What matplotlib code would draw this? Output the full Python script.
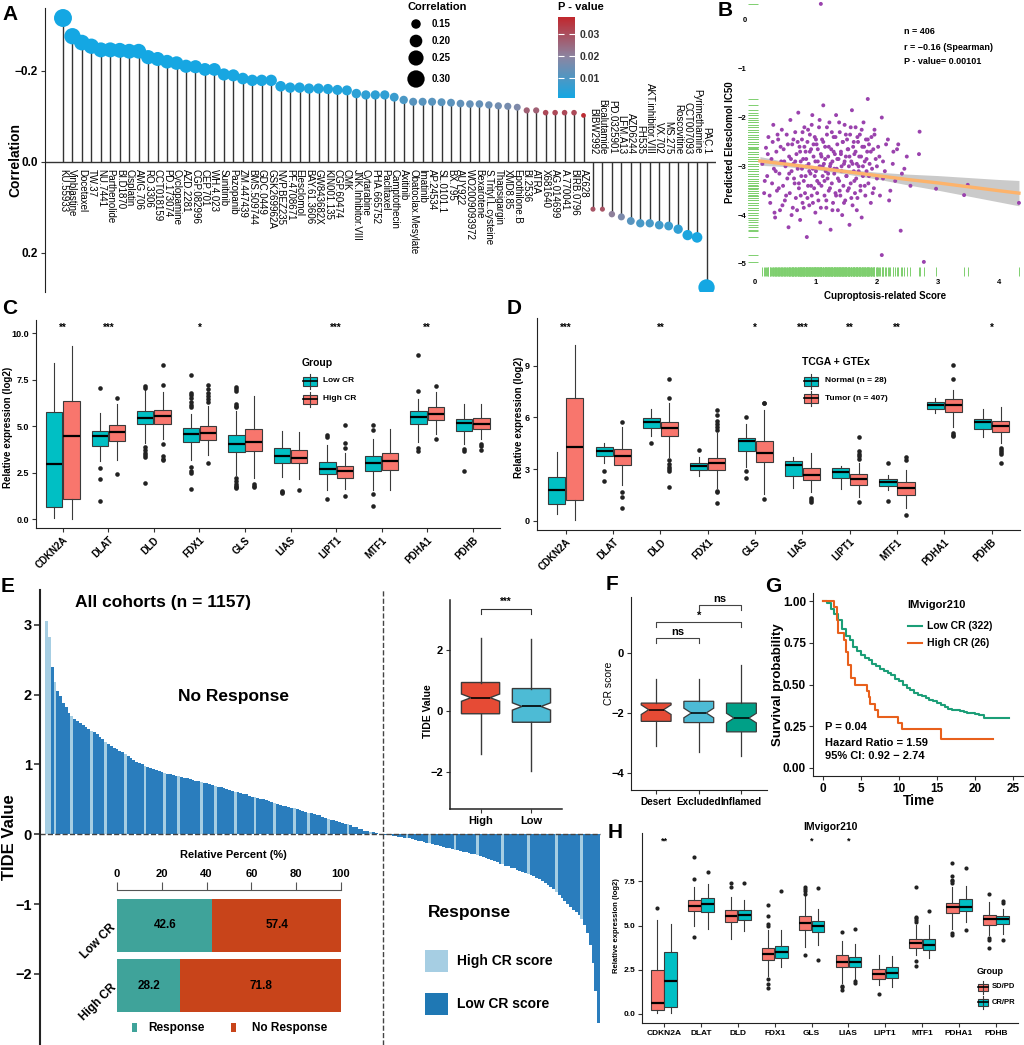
import numpy as np
import matplotlib.pyplot as plt
from matplotlib.colors import LinearSegmentedColormap, Normalize
from matplotlib.cm import ScalarMappable
from matplotlib.patches import Rectangle
from matplotlib.transforms import blended_transform_factory

plt.rcParams['font.family'] = ['Liberation Sans', 'DejaVu Sans']
plt.rcParams['font.weight'] = 'bold'

# ---------------- data ----------------
# A: drug correlation lollipop
drugs = ["KU.55933", "Vinblastine", "Docetaxel", "TW.37", "NU.7441", "Parthenolide", "BI.D1870",
         "Cisplatin", "AMG.706", "RO.3306", "CCT018159", "PD.173074", "Cyclopamine", "AZD.2281",
         "CGP.082996", "CEP.701", "WH.4.023", "Sunitinib", "Pazopanib", "ZM.447439", "BMS.509744",
         "GDC.0449", "GSK269962A", "NVP.BEZ235", "PF.4708671", "Elesclomol", "BAY.61.3606",
         "GW843682X", "KIN001.135", "CGP.60474", "CMK", "JNK.Inhibitor.VIII", "Cytarabine",
         "PHA.665752", "Paclitaxel", "Camptothecin", "Axitinib", "Obatoclax.Mesylate", "Imatinib",
         "AP.24534", "SL.0101.1", "BX.795", "AUY922", "WO2009093972", "Bexarotene",
         "S.Trityl.L.cysteine", "Thapsigargin", "XMD8.85", "Epothilone.B", "BI.2536", "ATRA",
         "X681640", "AG.014699", "A.770041", "BIRB.0796", "AZ628",
         "BIBW2992", "Bicalutamide", "PD.0325901", "LFM.A13", "AZD6244", "FH535",
         "AKT.inhibitor.VIII", "VX.702", "MS.275", "Roscovitine", "CCT007093", "Pyrimethamine", "PAC.1"]
corr = [-0.316, -0.276, -0.262, -0.254, -0.246, -0.246, -0.245, -0.243, -0.243, -0.230,
        -0.226, -0.220, -0.217, -0.210, -0.209, -0.203, -0.203, -0.192, -0.190, -0.183,
        -0.179, -0.179, -0.179, -0.166, -0.163, -0.163, -0.161, -0.161, -0.160, -0.158,
        -0.157, -0.150, -0.147, -0.147, -0.147, -0.142, -0.136, -0.132, -0.132, -0.132,
        -0.131, -0.130, -0.128, -0.127, -0.127, -0.125, -0.123, -0.122, -0.120, -0.113,
        -0.113, -0.108, -0.108, -0.108, -0.108, -0.102,
        0.104, 0.104, 0.115, 0.121, 0.130, 0.135, 0.135, 0.139, 0.141, 0.148, 0.161, 0.166, 0.276]
pvals = [0.0009, 0.0009, 0.0009, 0.0009, 0.0009, 0.0009, 0.0009, 0.0009, 0.0009, 0.0010,
         0.0010, 0.0011, 0.0011, 0.0012, 0.0012, 0.0013, 0.0013, 0.0015, 0.0015, 0.0017,
         0.0018, 0.0018, 0.0018, 0.0024, 0.0026, 0.0026, 0.0028, 0.0028, 0.0029, 0.0031,
         0.0033, 0.0045, 0.0052, 0.0052, 0.0052, 0.0068, 0.0095, 0.0115, 0.0115, 0.0115,
         0.0118, 0.0122, 0.0130, 0.0135, 0.0135, 0.0145, 0.0155, 0.0162, 0.0175, 0.0265,
         0.0265, 0.0310, 0.0310, 0.0310, 0.0310, 0.0365,
         0.0290, 0.0290, 0.0205, 0.0170, 0.0115, 0.0090, 0.0090, 0.0080, 0.0072, 0.0052,
         0.0022, 0.0016, 0.0009]
size_legend = [0.15, 0.20, 0.25, 0.30]

# B: score vs predicted IC50
b_x = [0.12, 0.15, 0.18, 0.2, 0.22, 0.25, 0.27, 0.28, 0.3, 0.31, 0.33, 0.35, 0.36, 0.38, 0.4, 0.41,
       0.43, 0.44, 0.46, 0.47, 0.49, 0.5, 0.52, 0.53, 0.55, 0.56, 0.57, 0.58, 0.6, 0.61, 0.62, 0.63,
       0.65, 0.66, 0.67, 0.68, 0.7, 0.71, 0.72, 0.73, 0.74, 0.75, 0.76, 0.77, 0.78, 0.79, 0.8, 0.81,
       0.82, 0.83, 0.84, 0.85, 0.86, 0.87, 0.88, 0.89, 0.9, 0.91, 0.92, 0.93, 0.94, 0.95, 0.96, 0.97,
       0.98, 0.99, 1.0, 1.01, 1.02, 1.03, 1.04, 1.05, 1.06, 1.07, 1.08, 1.08, 1.09, 1.1, 1.11, 1.12,
       1.13, 1.14, 1.15, 1.16, 1.17, 1.18, 1.19, 1.2, 1.21, 1.22, 1.23, 1.24, 1.25, 1.26, 1.27, 1.28,
       1.29, 1.3, 1.31, 1.32, 1.33, 1.34, 1.35, 1.36, 1.37, 1.38, 1.39, 1.4, 1.41, 1.42, 1.43, 1.44,
       1.45, 1.46, 1.47, 1.48, 1.49, 1.5, 1.51, 1.52, 1.53, 1.54, 1.55, 1.56, 1.57, 1.58, 1.59, 1.6,
       1.61, 1.62, 1.63, 1.64, 1.65, 1.66, 1.67, 1.68, 1.69, 1.7, 1.72, 1.73, 1.74, 1.75, 1.76, 1.77,
       1.78, 1.8, 1.81, 1.82, 1.83, 1.84, 1.85, 1.86, 1.87, 1.88, 1.9, 1.91, 1.92, 1.94, 1.95, 1.96,
       1.98, 2.0, 2.02, 2.05, 2.08, 2.08, 2.1, 2.13, 2.18, 2.22, 2.27, 2.3, 2.35, 2.39, 2.45, 2.49,
       2.55, 2.69, 2.7, 2.77, 2.97, 3.43, 3.49, 4.33]
b_y = [-2.95, -3.55, -2.62, -3.2, -2.4, -3.75, -2.85, -3.35, -2.15, -3.05, -4.05, -2.7, -3.5, -2.45,
       -3.15, -3.9, -2.9, -2.25, -3.4, -2.65, -3.7, -3.0, -2.35, -3.25, -4.25, -2.8, -3.55, -2.05,
       -3.1, -2.55, -3.85, -2.95, -3.35, -2.3, -3.65, -2.75, -3.05, -1.9, -3.45, -2.6, -4.1, -2.9,
       -3.2, -2.45, -3.75, -2.85, -3.3, -2.2, -3.55, -2.7, -3.0, -4.45, -2.5, -3.4, -2.95, -3.8,
       -2.35, -3.15, -2.65, -3.6, -1.95, -3.05, -2.8, -3.45, -2.4, -3.95, -3.1, -2.55, -3.3, -2.9,
       -3.7, -2.2, -3.0, -4.15, -2.75, 0.33, -3.4, -2.45, -3.2, -1.75, -2.95, -3.6, -2.6, -3.1,
       -3.85, -2.35, -3.25, -2.8, -3.5, -2.1, -3.0, -4.3, -2.65, -3.35, -2.9, -3.75, -2.4, -3.15,
       -2.75, -3.55, -1.95, -3.05, -2.55, -3.9, -2.85, -3.3, -2.3, -3.6, -2.7, -3.1, -4.0, -2.5,
       -3.4, -2.95, -2.15, -3.7, -2.8, -3.2, -2.45, -3.5, -2.65, -3.0, -4.2, -2.35, -3.35, -2.9,
       -1.85, -3.8, -2.6, -3.1, -2.75, -3.55, -2.2, -3.25, -2.95, -3.65, -2.5, -3.0, -2.35, -3.4,
       -2.8, -4.05, -2.6, -3.2, -2.1, -2.9, -3.6, -2.45, -3.1, -2.7, -1.62, -3.35, -2.55, -2.95,
       -3.75, -2.4, -3.05, -2.65, -3.45, -2.25, -2.85, -3.25, -2.6, -3.6, -2.0, -4.82, -2.9, -3.1,
       -2.45, -3.5, -2.7, -3.3, -2.55, -4.32, -3.05, -2.8, -3.4, -2.75, -2.29, -4.96, -3.46, -3.59,
       -3.38, -3.75]
b_x2 = [0.16, 0.21, 0.24, 0.29, 0.32, 0.34, 0.37, 0.39, 0.42, 0.45,
        0.48, 0.51, 0.54, 0.56, 0.59, 0.6, 0.63, 0.64, 0.66, 0.69,
        0.7, 0.72, 0.74, 0.75, 0.77, 0.78, 0.8, 0.81, 0.83, 0.84,
        0.86, 0.87, 0.89, 0.9, 0.92, 0.93, 0.95, 0.96, 0.98, 0.99,
        1.0, 1.02, 1.03, 1.05, 1.06, 1.08, 1.09, 1.11, 1.12, 1.14,
        1.15, 1.17, 1.18, 1.2, 1.21, 1.23, 1.24, 1.26, 1.27, 1.29,
        1.3, 1.32, 1.33, 1.35, 1.36, 1.38, 1.39, 1.41, 1.42, 1.44,
        1.46, 1.47, 1.49, 1.5, 1.52, 1.54, 1.55, 1.57, 1.58, 1.6,
        1.62, 1.63, 1.65, 1.67, 1.68, 1.7, 1.71, 1.73, 1.75, 1.77,
        1.79, 1.8, 1.83, 1.85, 1.87, 1.9, 1.93, 1.96, 2.0, 2.04,
        2.1, 2.15, 2.2, 2.26, 2.33, 2.41]
b_y2 = [-3.3, -2.75, -3.6, -2.5, -3.95, -3.1, -2.35, -3.45, -2.6, -3.8,
        -2.9, -3.6, -2.55, -3.15, -2.85, -4.0, -2.45, -3.25, -2.9, -3.9,
        -2.5, -3.35, -2.7, -3.6, -3.05, -2.3, -3.85, -2.6, -3.2, -2.85,
        -3.65, -2.25, -3.1, -2.7, -3.4, -2.15, -3.75, -2.55, -3.2, -2.9,
        -2.45, -3.55, -2.65, -3.35, -2.05, -3.85, -2.8, -3.0, -2.5, -3.3,
        -2.85, -3.7, -2.2, -3.15, -2.6, -3.45, -2.95, -2.3, -3.9, -2.7,
        -3.05, -2.4, -3.6, -2.85, -3.25, -2.1, -3.5, -2.75, -3.0, -2.5,
        -3.75, -2.9, -2.35, -3.2, -2.65, -3.45, -2.8, -2.2, -3.65, -2.95,
        -2.5, -3.3, -2.7, -3.9, -2.4, -3.1, -2.8, -3.5, -2.25, -3.0,
        -2.6, -3.4, -2.85, -2.45, -3.2, -2.7, -3.55, -2.35, -3.0, -2.8,
        -3.25, -2.55, -3.7, -2.95, -2.65, -3.15]
b_fit_x = [0.08, 0.5, 1.0, 1.5, 2.0, 2.5, 3.0, 3.5, 4.0, 4.33]
b_fit_y = [-2.89, -2.955, -3.03, -3.11, -3.19, -3.27, -3.34, -3.42, -3.50, -3.55]
b_fit_ci = [0.09, 0.05, 0.04, 0.05, 0.07, 0.11, 0.15, 0.19, 0.23, 0.26]

# C / D / H: gene expression boxplots  [whislo, q1, med, q3, whishi]
genes = ["CDKN2A", "DLAT", "DLD", "FDX1", "GLS", "LIAS", "LIPT1", "MTF1", "PDHA1", "PDHB"]
c_low = [[0.05, 0.65, 2.94, 5.75, 8.39], [3.14, 3.94, 4.46, 4.73, 5.70], [4.10, 5.09, 5.45, 5.82, 6.92],
         [3.15, 4.14, 4.55, 4.89, 5.66], [2.35, 3.60, 4.03, 4.50, 5.80], [2.25, 3.00, 3.37, 3.80, 4.75],
         [1.54, 2.44, 2.71, 3.06, 3.96], [1.58, 2.56, 3.01, 3.39, 4.30], [4.14, 5.13, 5.48, 5.81, 6.47],
         [4.05, 4.73, 5.16, 5.39, 6.20]]
c_low_out = [[], [7.04, 2.74, 2.17, 0.97], [7.05, 7.15, 3.85, 3.7, 3.55, 3.45, 3.35, 1.94],
             [6.0, 6.15, 6.3, 6.5, 6.65, 6.8, 7.74, 2.8, 2.6, 2.5, 1.6],
             [6.0, 6.1, 6.2, 6.9, 7.0, 7.1, 2.2, 2.05, 1.9, 1.8, 1.7, 1.65], [1.5, 1.45, 1.38],
             [4.4, 4.5, 1.1], [4.77, 5.07, 1.33, 0.68], [6.88, 8.8, 3.8, 3.65], [3.75, 3.65, 2.6]]
c_high = [[0.0, 1.06, 4.46, 6.34, 9.28], [3.15, 4.19, 4.68, 5.05, 6.20], [4.32, 5.13, 5.52, 5.88, 6.83],
          [3.42, 4.23, 4.62, 5.00, 6.06], [2.20, 3.64, 4.16, 4.86, 6.61], [2.15, 3.02, 3.30, 3.72, 4.70],
          [1.60, 2.22, 2.56, 2.83, 3.55], [1.54, 2.62, 3.12, 3.57, 4.86], [4.59, 5.34, 5.66, 6.02, 6.83],
          [4.32, 4.86, 5.13, 5.43, 6.17]]
c_high_out = [[], [6.49, 2.44], [7.19, 8.26, 4.01, 3.37, 3.25, 3.15], [6.3, 6.45, 6.6, 6.8, 7.0, 7.2, 3.03],
              [1.9, 1.8, 1.75], [1.55], [3.8, 4.1, 5.05, 1.22], [], [7.17, 4.28], [4.05, 3.95, 3.7]]
c_stars = ["**", "***", "", "*", "", "", "***", "", "**", ""]

d_norm = [[0.39, 0.97, 1.78, 2.52, 4.01], [3.37, 3.76, 4.07, 4.26, 4.50], [4.92, 5.41, 5.76, 5.99, 6.47],
          [2.60, 2.95, 3.18, 3.33, 3.72], [3.14, 4.07, 4.65, 4.83, 5.60], [1.92, 2.62, 3.24, 3.49, 3.72],
          [1.82, 2.46, 2.85, 3.04, 3.20], [1.78, 2.02, 2.23, 2.42, 2.66], [6.24, 6.49, 6.72, 6.88, 7.11],
          [4.88, 5.33, 5.76, 5.91, 6.47]]
d_norm_out = [[], [2.89, 2.33], [4.5], [4.11], [6.0, 2.89, 2.5], [], [], [3.33, 1.14], [], []]
d_tum = [[0.04, 1.20, 4.30, 7.11, 10.21], [2.07, 3.24, 3.76, 4.17, 5.43], [3.72, 4.94, 5.41, 5.76, 6.82],
         [1.88, 2.95, 3.33, 3.66, 5.08], [1.55, 3.43, 3.95, 4.65, 6.43], [1.69, 2.36, 2.66, 3.04, 3.95],
         [1.40, 2.07, 2.42, 2.71, 3.37], [0.72, 1.49, 1.88, 2.27, 2.95], [5.47, 6.34, 6.72, 7.07, 7.60],
         [4.50, 5.17, 5.52, 5.79, 6.59]]
d_tum_out = [[], [5.76, 1.69, 1.4, 0.72], [7.11, 8.22, 3.5, 3.3, 3.15, 3.0, 2.9, 1.98],
             [5.3, 5.45, 5.6, 5.8, 6.15, 6.45, 1.75, 1.65, 1.05], [6.82, 6.86, 1.24], [1.3, 1.2, 1.07],
             [3.6, 3.75, 3.9, 4.05, 4.86, 1.1], [3.55, 3.7, 0.33], [8.22, 9.03, 5.1, 5.0, 4.9],
             [3.9, 4.0, 4.1, 4.2, 3.33]]
d_stars = ["***", "", "**", "", "*", "***", "**", "**", "", "*"]

h_sd = [[0.04, 0.23, 0.60, 2.46, 5.33], [4.95, 5.84, 6.12, 6.43, 7.18], [4.23, 5.20, 5.52, 5.86, 6.60],
        [2.12, 3.06, 3.40, 3.72, 4.76], [3.78, 4.76, 5.14, 5.52, 6.65], [1.74, 2.65, 2.95, 3.31, 4.10],
        [1.64, 2.00, 2.27, 2.55, 3.35], [3.35, 3.72, 3.99, 4.25, 5.05], [4.80, 5.71, 6.03, 6.28, 7.18],
        [4.48, 5.05, 5.37, 5.58, 6.31]]
h_sd_out = [[5.99], [7.64, 8.87, 4.35], [7.16, 7.41], [4.95, 5.1, 5.52, 6.18, 1.97, 1.68, 1.46],
            [6.8, 6.95, 7.05, 7.15, 3.35], [4.61, 1.6, 1.5, 1.36], [1.13], [5.2, 5.3, 5.4, 5.5, 7.18, 2.97, 2.72],
            [7.4, 7.5, 7.6, 7.8, 8.54, 4.6, 4.46], [6.8, 4.29, 4.2, 3.72]]
h_cr = [[0.04, 0.38, 1.89, 3.48, 5.10], [4.82, 5.77, 6.24, 6.56, 7.37], [4.67, 5.31, 5.61, 5.90, 6.43],
        [2.68, 3.16, 3.50, 3.86, 4.76], [3.91, 4.61, 4.99, 5.27, 5.95], [1.93, 2.68, 2.91, 3.23, 3.95],
        [1.55, 2.02, 2.31, 2.65, 3.29], [3.19, 3.63, 3.91, 4.25, 5.05], [5.18, 5.80, 6.05, 6.50, 7.22],
        [4.54, 5.10, 5.37, 5.52, 5.95]]
h_cr_out = [[], [8.03], [7.41], [6.94], [7.13, 3.06], [4.82, 1.85, 1.75], [], [5.8], [8.24, 4.76], [6.37, 6.28, 4.16]]
h_stars = ["**", "", "", "", "*", "*", "", "", "", ""]

# E: TIDE waterfall (sorted), inset box and percent bars
e_pos = [3.05, 2.82, 2.40, 2.18, 2.05, 1.98, 1.88, 1.82, 1.74, 1.70,
         1.65, 1.62, 1.60, 1.56, 1.53, 1.51, 1.48, 1.46, 1.43, 1.40,
         1.36, 1.32, 1.29, 1.27, 1.24, 1.22, 1.20, 1.18, 1.15, 1.12,
         1.09, 1.06, 1.04, 1.02, 1.00, 0.98, 0.96, 0.95, 0.94, 0.92,
         0.90, 0.89, 0.88, 0.87, 0.86, 0.85, 0.84, 0.83, 0.82, 0.81,
         0.80, 0.79, 0.78, 0.77, 0.76, 0.75, 0.74, 0.73, 0.72, 0.71,
         0.69, 0.68, 0.67, 0.66, 0.65, 0.64, 0.62, 0.61, 0.60, 0.59,
         0.58, 0.57, 0.55, 0.54, 0.53, 0.52, 0.51, 0.50, 0.49, 0.48,
         0.46, 0.45, 0.43, 0.42, 0.41, 0.40, 0.39, 0.38, 0.37, 0.36,
         0.35, 0.34, 0.32, 0.31, 0.30, 0.29, 0.28, 0.27, 0.25, 0.24,
         0.22, 0.21, 0.20, 0.19, 0.17, 0.16, 0.15, 0.14, 0.13, 0.11,
         0.10, 0.08, 0.07, 0.05, 0.04, 0.03, 0.03, 0.02, 0.01, 0.005]
e_neg = [-0.005, -0.01, -0.015, -0.02, -0.03, -0.035, -0.04, -0.05, -0.055, -0.06,
         -0.07, -0.08, -0.09, -0.10, -0.11, -0.12, -0.13, -0.14, -0.15, -0.16,
         -0.17, -0.18, -0.19, -0.20, -0.21, -0.22, -0.23, -0.24, -0.25, -0.26,
         -0.27, -0.28, -0.29, -0.30, -0.31, -0.32, -0.34, -0.35, -0.37, -0.38,
         -0.40, -0.42, -0.43, -0.45, -0.46, -0.48, -0.49, -0.51, -0.52, -0.54,
         -0.55, -0.57, -0.59, -0.60, -0.62, -0.64, -0.67, -0.70, -0.73, -0.76,
         -0.79, -0.83, -0.87, -0.91, -0.95, -1.00, -1.04, -1.08, -1.12, -1.16,
         -1.22, -1.30, -1.42, -1.58, -1.85, -2.25, -2.70]
e_high_idx = [0, 1, 3, 9, 16, 21, 28, 35, 42, 47, 55, 60, 67, 74, 81, 88, 93, 100, 107,
              115, 118, 128, 136, 145, 153, 162, 171, 181, 190]
e_box_groups = ["High", "Low"]
e_box = [[-1.43, -0.09, 0.44, 0.94, 2.42], [-1.98, -0.37, 0.15, 0.74, 2.38]]
e_pct_groups = ["Low CR", "High CR"]
e_pct_resp = [42.6, 28.2]
e_pct_nores = [57.4, 71.8]

# F: CR score by immune phenotype
f_groups = ["Desert", "Excluded", "Inflamed"]
f_box = [[-3.11, -2.28, -1.89, -1.67, -0.88], [-3.30, -2.32, -2.00, -1.61, -0.88],
         [-3.44, -2.63, -2.17, -1.67, -0.41]]

# G: Kaplan-Meier curves
g_low_t = [0, 0.5, 1, 1.5, 2, 2.5, 3, 3.5, 4, 4.5, 5, 5.5, 6, 6.5, 7, 7.5, 8, 8.5, 9, 9.5, 10, 10.5,
           11, 11.5, 12, 12.5, 13, 13.5, 14, 14.5, 15, 15.5, 16, 16.5, 17, 17.5, 18, 18.5, 19, 19.5,
           20, 20.5, 21.2, 24.4]
g_low_s = [1.0, 0.99, 0.955, 0.925, 0.885, 0.835, 0.79, 0.765, 0.725, 0.70, 0.675, 0.66, 0.645,
           0.625, 0.61, 0.595, 0.58, 0.57, 0.555, 0.535, 0.52, 0.50, 0.48, 0.465, 0.45, 0.44, 0.43,
           0.42, 0.41, 0.40, 0.39, 0.375, 0.365, 0.355, 0.35, 0.345, 0.34, 0.335, 0.33, 0.328,
           0.325, 0.32, 0.30, 0.30]
g_high_t = [0, 1.4, 1.8, 2.0, 2.7, 3.0, 3.3, 3.7, 4.2, 5.8, 6.0, 6.2, 6.8, 7.2, 9.9, 10.4, 15.5, 22.4]
g_high_s = [1.0, 0.962, 0.885, 0.808, 0.769, 0.692, 0.615, 0.538, 0.50, 0.462, 0.423, 0.385,
            0.346, 0.308, 0.269, 0.231, 0.173, 0.173]

# ---------------- figure ----------------
W, H = 1024, 1045
fig = plt.figure(figsize=(W / 100, H / 100), dpi=100)
TEAL, SALMON, EDGE = '#00BFC4', '#F8766D', '#3a3a3a'
LIGHT, DARK = '#a6cee3', '#2a7dbd'


def add_ax(x0, y0, x1, y1):
    return fig.add_axes([x0 / W, 1 - y1 / H, (x1 - x0) / W, (y1 - y0) / H])


def boxes(ax, stats, fliers, pos, width, color, notch=None, ms=3.3, lw=0.8, medlw=1.6):
    items = []
    for k, (lo, q1, med, q3, hi) in enumerate(stats):
        d = dict(whislo=lo, q1=q1, med=med, q3=q3, whishi=hi, fliers=fliers[k] if fliers else [])
        if notch is not None:
            d['cilo'] = med - notch
            d['cihi'] = med + notch
        items.append(d)
    ax.bxp(items, positions=pos, widths=width, patch_artist=True, showcaps=False,
           shownotches=notch is not None, manage_ticks=False,
           boxprops=dict(facecolor=color, edgecolor=EDGE, linewidth=lw),
           medianprops=dict(color='black', linewidth=medlw),
           whiskerprops=dict(color=EDGE, linewidth=lw),
           flierprops=dict(marker='o', markerfacecolor='#222222', markeredgecolor='none', markersize=ms))


def style(ax, fs=7, spines=('left', 'bottom')):
    for s in ['left', 'right', 'top', 'bottom']:
        ax.spines[s].set_visible(s in spines)
        ax.spines[s].set_color('#222222')
    ax.tick_params(labelsize=fs, length=3, width=0.8, color='#333333', pad=2)
    for t in ax.get_xticklabels() + ax.get_yticklabels():
        t.set_fontweight('bold')
    ax.patch.set_alpha(0)


# ---- A ----
ax = add_ax(45, 8, 716, 292)
pcmap = LinearSegmentedColormap.from_list('pv', ['#14a7e3', '#8a86a3', '#c1272d'])
pnorm = Normalize(0.0009, 0.0377)
xi = np.arange(len(drugs))
ca = np.array(corr)
ax.vlines(xi, 0, ca, color='#333333', lw=1, zorder=1)
ax.axhline(0, color='#333333', lw=1)
ax.scatter(xi, ca, s=0.5184 * (20 + 1400 * (np.abs(ca) - 0.1)), c=pvals, cmap=pcmap, norm=pnorm,
           edgecolors='none', zorder=3)
for i, (name, r) in enumerate(zip(drugs, corr)):
    if r < 0:
        ax.text(i, 0.016, name, rotation=-90, rotation_mode='anchor', ha='left', va='center',
                fontsize=7, fontweight='normal')
    else:
        ax.text(i, -0.017, name, rotation=-90, rotation_mode='anchor', ha='right', va='center',
                fontsize=7, fontweight='normal')
ax.set_xlim(-1.9, 69)
ax.set_ylim(0.286, -0.338)
ax.set_xticks([])
ax.set_yticks([-0.2, 0.0, 0.2], ['\u22120.2', '0.0', '0.2'])
style(ax, fs=8.5, spines=('left',))

cax = add_ax(558, 17, 575, 98)
cb = fig.colorbar(ScalarMappable(norm=pnorm, cmap=pcmap), cax=cax)
cb.set_ticks([0.01, 0.02, 0.03])
cb.outline.set_visible(False)
cax.tick_params(labelsize=7.5, colors='white', direction='in', length=4, left=True, right=True,
                labelcolor='#333333')
for t in cax.get_yticklabels():
    t.set_fontweight('bold')

# ---- B ----
ax = add_ax(748, 0, 1022, 278)
fy = np.array(b_fit_y)
fci = np.array(b_fit_ci)
bx = b_x + b_x2
by = b_y + b_y2
ax.fill_between(b_fit_x, fy - fci, fy + fci, color='#bdbdbd', alpha=0.8, lw=0, zorder=1)
ax.scatter(bx, by, s=8, color='#9a42ad', edgecolors='none', zorder=2)
ax.plot(b_fit_x, b_fit_y, color='#fdb36b', lw=2.4, zorder=3)
bt = blended_transform_factory(ax.transData, ax.transAxes)
ax.vlines(bx, 0.007, 0.04, transform=bt, color='#7fcf6f', lw=0.7)
lt = blended_transform_factory(ax.transAxes, ax.transData)
ax.hlines(by, 0.0, 0.036, transform=lt, color='#7fcf6f', lw=0.7)
ax.set_xlim(-0.115, 4.38)
ax.set_ylim(-5.29, 0.41)
ax.set_xticks([0, 1, 2, 3, 4])
ax.set_yticks([0, -1, -2, -3, -4, -5], ['0', '\u22121', '\u22122', '\u22123', '\u22124', '\u22125'])
style(ax, fs=5.5, spines=())
ax.tick_params(length=0, pad=1)

# ---- C ----
ax = add_ax(36, 320, 500, 528)
gx = np.arange(1, 11)
boxes(ax, c_low, c_low_out, gx - 0.19, 0.36, TEAL)
boxes(ax, c_high, c_high_out, gx + 0.19, 0.36, SALMON)
for x, s in zip(gx, c_stars):
    ax.text(x, 10.3, s, ha='center', va='center', fontsize=7)
ax.set_xlim(0.41, 10.6)
ax.set_ylim(-0.48, 10.7)
ax.set_yticks([0, 2.5, 5, 7.5, 10], ['0.0', '2.5', '5.0', '7.5', '10.0'])
ax.set_xticks(gx, genes, rotation=45, ha='right', rotation_mode='anchor')
style(ax, fs=6.5)
for t in ax.get_xticklabels():
    t.set_fontsize(7)

# ---- D ----
ax = add_ax(537, 318, 1020, 530)
boxes(ax, d_norm, d_norm_out, gx - 0.19, 0.36, TEAL)
boxes(ax, d_tum, d_tum_out, gx + 0.19, 0.36, SALMON)
for x, s in zip(gx, d_stars):
    ax.text(x, 11.2, s, ha='center', va='center', fontsize=7)
ax.set_xlim(0.39, 10.6)
ax.set_ylim(-0.54, 11.78)
ax.set_yticks([0, 3, 6, 9])
ax.set_xticks(gx, genes, rotation=45, ha='right', rotation_mode='anchor')
style(ax, fs=6.5)
for t in ax.get_xticklabels():
    t.set_fontsize(7)

# ---- E main ----
ax = add_ax(40, 590, 615, 1045)
e_vals = e_pos + e_neg
n = len(e_vals)
cols = [DARK] * n
for i in e_high_idx:
    cols[i] = LIGHT
ax.bar(np.arange(n), e_vals, width=1.0, color=cols, lw=0)
ax.set_xlim(-2.3, n + 4.8)
ax.set_ylim(-3.02, 3.5)
ax.plot([-2.3, n - 0.5], [0, 0], ls='--', color='#444444', lw=1)
ax.axvline(len(e_pos) - 0.5, ls='--', color='#444444', lw=1)
ax.set_xticks([])
ax.set_yticks([-2, -1, 0, 1, 2, 3], ['\u22122', '\u22121', '0', '1', '2', '3'])
style(ax, fs=10.5, spines=('left',))
ax.spines['left'].set_linewidth(1.5)
ax.tick_params(length=4, width=1.2)

# E inset box
ax = add_ax(450, 600, 562, 809)
boxes(ax, [e_box[0]], None, [1], 0.75, '#E64B35', notch=0.12, lw=1, medlw=1.2)
boxes(ax, [e_box[1]], None, [2], 0.75, '#4DBBD5', notch=0.12, lw=1, medlw=1.2)
ax.plot([1, 1, 2, 2], [3.2, 3.37, 3.37, 3.2], color='#333333', lw=0.8)
ax.text(1.5, 3.45, '***', ha='center', va='bottom', fontsize=7)
ax.set_xlim(0.4, 2.6)
ax.set_ylim(-3.23, 3.66)
ax.set_xticks([1, 2], e_box_groups)
ax.set_yticks([-2, 0, 2], ['\u22122', '0', '2'])
style(ax, fs=8)
ax.spines['left'].set_linewidth(1.1)
ax.spines['bottom'].set_linewidth(1.1)

# E percent bars
ax = add_ax(117, 890, 341, 1015)
yy = np.arange(2)
ax.barh(yy, e_pct_resp, height=0.88, color='#3fa39a', lw=0)
ax.barh(yy, e_pct_nores, left=e_pct_resp, height=0.88, color='#c8441a', lw=0)
for k in range(2):
    ax.text(e_pct_resp[k] / 2, k, f'{e_pct_resp[k]}', ha='center', va='center', fontsize=8.5)
    ax.text(e_pct_resp[k] + e_pct_nores[k] / 2, k, f'{e_pct_nores[k]}', ha='center', va='center',
            fontsize=8.5)
ax.set_xlim(0, 100)
ax.set_ylim(1.49, -0.59)
ax.xaxis.tick_top()
ax.set_xticks([0, 20, 40, 60, 80, 100])
ax.set_yticks(yy, e_pct_groups, rotation=45, ha='right', va='center', rotation_mode='anchor')
style(ax, fs=8, spines=('top',))
ax.spines['top'].set_color('#555555')
ax.tick_params(axis='x', length=6, color='#555555')
ax.tick_params(axis='y', length=0, labelsize=8.5)

# ---- F ----
ax = add_ax(631, 597, 767, 790)
for k, c in enumerate(['#E64B35', '#4DBBD5', '#00A087']):
    boxes(ax, [f_box[k]], None, [k + 1], 0.7, c, notch=0.16, lw=0.9, medlw=1.1)
for (x0, x1, yb, lab) in [(1, 2, 0.5, 'ns'), (1, 3, 1.03, '*'), (2, 3, 1.6, 'ns')]:
    ax.plot([x0, x0, x1, x1], [yb - 0.15, yb, yb, yb - 0.15], color='#444444', lw=0.8)
    ax.text((x0 + x1) / 2, yb + 0.05, lab, ha='center', va='bottom', fontsize=8)
ax.set_xlim(0.41, 3.6)
ax.set_ylim(-4.57, 1.87)
ax.set_xticks([1, 2, 3], f_groups)
ax.set_yticks([-4, -2, 0], ['\u22124', '\u22122', '0'])
style(ax, fs=8)
for t in ax.get_xticklabels():
    t.set_fontsize(7.2)

# ---- G ----
ax = add_ax(813, 593, 1023, 776)
ax.step(g_low_t, g_low_s, where='post', color='#1b9e77', lw=1.5)
ax.step(g_high_t, g_high_s, where='post', color='#e8601c', lw=1.5)
ax.set_xlim(-1.32, 26.3)
ax.set_ylim(-0.048, 1.048)
ax.set_xticks([0, 5, 10, 15, 20, 25])
ax.set_yticks([0, 0.25, 0.5, 0.75, 1.0], ['0.00', '0.25', '0.50', '0.75', '1.00'])
style(ax, fs=8.5)

# ---- H ----
ax = add_ax(642, 833, 1018, 1023)
boxes(ax, h_sd, h_sd_out, gx - 0.18, 0.34, SALMON, ms=3)
boxes(ax, h_cr, h_cr_out, gx + 0.18, 0.34, TEAL, ms=3)
for x, s in zip(gx, h_stars):
    ax.text(x, 9.8, s, ha='center', va='center', fontsize=6.5)
ax.set_xlim(0.4, 10.6)
ax.set_ylim(-0.51, 10.23)
ax.set_yticks([0, 2.5, 5, 7.5], ['0.0', '2.5', '5.0', '7.5'])
ax.set_xticks(gx, genes)
style(ax, fs=6)

# ---------------- overlay: labels and legends in pixel coordinates ----------------
ov = fig.add_axes([0, 0, 1, 1])
ov.set_xlim(0, W)
ov.set_ylim(H, 0)
ov.axis('off')


def txt(x, y, s, fs, ha='left', rot=0, weight='bold'):
    ov.text(x, y, s, fontsize=fs, ha=ha, va='center', rotation=rot, fontweight=weight)


def key_box(xc, yc, color, w=14, h=9):
    ov.plot([xc, xc], [yc - h / 2 - 3, yc + h / 2 + 3], color=EDGE, lw=0.8)
    ov.add_patch(Rectangle((xc - w / 2, yc - h / 2), w, h, facecolor=color, edgecolor=EDGE, lw=0.8))
    ov.plot([xc - w / 2, xc + w / 2], [yc, yc], color='black', lw=1.2)


for lab, x, y in [('A', 10, 14), ('B', 725, 11), ('C', 10, 309), ('D', 514, 309), ('E', 8, 587),
                  ('F', 612, 585), ('G', 773, 586), ('H', 615, 833)]:
    txt(x, y, lab, 15, ha='center')

# A legends
txt(15, 160, 'Correlation', 10, ha='center', rot=90)
txt(437, 7, 'Correlation', 8, ha='center')
sv = np.array(size_legend)
ov.scatter([416] * 4, [24, 41, 58, 79], s=0.5184 * (20 + 1400 * (sv - 0.1)), color='black', edgecolors='none')
for v, y in zip(size_legend, [24, 41, 58, 79]):
    txt(432, y, f'{v:.2f}', 7)
txt(558, 7, 'P - value', 8)

# B labels
txt(730, 142, 'Predicted Elesclomol IC50', 7, ha='center', rot=90)
txt(885, 296, 'Cuproptosis-related Score', 7, ha='center')
txt(904, 31, 'n = 406', 6.5)
txt(904, 47, 'r = \u22120.16 (Spearman)', 6.5)
txt(904, 62, 'P - value= 0.00101', 6.5)

# C labels / legend
txt(8, 427, 'Relative expression (log2)', 7, ha='center', rot=90)
txt(302, 363, 'Group', 7.5)
key_box(310, 381, TEAL)
key_box(310, 399, SALMON)
txt(323, 381, 'Low CR', 6)
txt(323, 399, 'High CR', 6)

# D labels / legend
txt(519, 417, 'Relative expression (log2)', 7, ha='center', rot=90)
txt(802, 362, 'TCGA + GTEx', 7.5)
key_box(811, 381, TEAL)
key_box(811, 398, SALMON)
txt(825, 381, 'Normal (n = 28)', 6)
txt(825, 398, 'Tumor (n = 407)', 6)

# E labels / legends
txt(75, 602, 'All cohorts (n = 1157)', 12.5)
txt(233, 697, 'No Response', 12.5, ha='center')
txt(10, 837, 'TIDE Value', 12, ha='center', rot=90)
txt(428, 711, 'TIDE Value', 7.5, ha='center', rot=90)
txt(233, 855, 'Relative Percent (%)', 8, ha='center')
txt(428, 913, 'Response', 12.5)
ov.add_patch(Rectangle((425, 950), 23, 22, facecolor=LIGHT, lw=0))
ov.add_patch(Rectangle((425, 993), 23, 22, facecolor='#1f78b4', lw=0))
txt(457, 961, 'High CR score', 10)
txt(457, 1004, 'Low CR score', 10)
ov.add_patch(Rectangle((132, 1023), 5, 9, facecolor='#3fa39a', lw=0))
ov.add_patch(Rectangle((231, 1023), 5, 9, facecolor='#c8441a', lw=0))
txt(148, 1028, 'Response', 8.5)
txt(252, 1028, 'No Response', 8.5)

# F labels
txt(609, 683, 'CR score', 7.5, ha='center', rot=90, weight='normal')

# G labels / legend
txt(778, 685, 'Survival probability', 9.5, ha='center', rot=90)
txt(919, 801, 'Time', 10, ha='center')
txt(907, 605, 'IMvigor210', 8)
ov.plot([908, 922], [626, 626], color='#1b9e77', lw=1.5)
ov.plot([908, 922], [643, 643], color='#e8601c', lw=1.5)
txt(927, 626, 'Low CR (322)', 7.5)
txt(927, 643, 'High CR (26)', 7.5)
txt(825, 727, 'P = 0.04', 8)
txt(825, 743, 'Hazard Ratio = 1.59', 8)
txt(825, 756, '95% CI: 0.92 \u2212 2.74', 8)

# H labels / legend
txt(830, 827, 'IMvigor210', 7.5, ha='center')
txt(617, 926, 'Relative expression (log2)', 5.5, ha='center', rot=90)
txt(977, 972, 'Group', 6.5)
key_box(983, 987, SALMON, w=10, h=7)
key_box(983, 1002, TEAL, w=10, h=7)
txt(992, 987, 'SD/PD', 5.5)
txt(992, 1002, 'CR/PR', 5.5)

fig.savefig('out.png', dpi=100)
